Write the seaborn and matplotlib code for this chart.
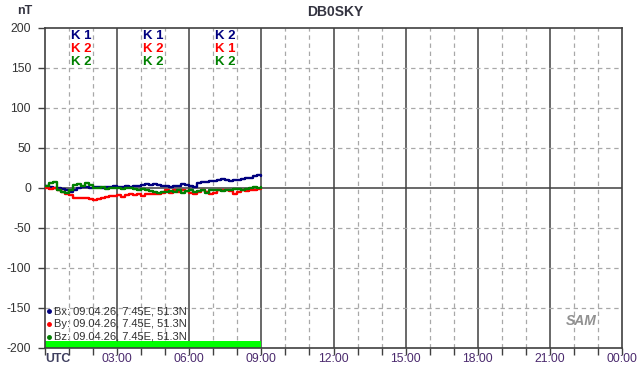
import numpy as np
import pandas as pd
import matplotlib
matplotlib.use("Agg")
import matplotlib.pyplot as plt
import seaborn as sns

hours = [i / 6 for i in range(55)]
bx = [2, 1, 0, 0, -1, -3, -5, -2, 0, 1, 1, 0, 1, 1, 0, 1, 1, 2, 1, 1, 2, 1, 2, 3, 4, 5, 4, 5, 4, 3,
      2, 1, 2, 3, 5, 4, 3, 1, 6, 8, 8, 9, 9, 10, 11, 10, 9, 10, 10, 11, 12, 13, 15, 16, 15]
by = [0, -1, 0, -3, -5, -7, -9, -12, -12, -13, -12, -14, -15, -14, -13, -11, -10, -10, -9, -11, -9,
      -7, -9, -8, -10, -8, -7, -8, -7, -6, -3, -6, -3, -5, -2, -4, -6, -7, -5, -3, -5, -7, -6, -2,
      -3, -2, -4, -7, -5, -3, -4, -2, -3, -1, -1]
bz = [3, 6, 7, -2, -5, -6, -3, 4, 5, 3, 6, 4, 0, 0, 1, -1, 0, 0, 0, -1, 0, 0, -1, -2, -1, -3, -4,
      -5, -6, -5, -5, -4, -5, -3, -6, -4, -3, -5, -4, -3, -6, -3, -3, -2, -4, -2, -3, -1, -1, -3,
      -1, 0, 1, 0, 1]
series_names = ["Bx", "By", "Bz"]
series_colors = ["#00007f", "#ff0000", "#008000"]
legend_text = "09.04.26, 7.45E, 51.3N"
k_hours = [1.5, 4.5, 7.5]
k_rows = [["K 1", "K 1", "K 2"], ["K 2", "K 2", "K 1"], ["K 2", "K 2", "K 2"]]
x_ticks = [0, 3, 6, 9, 12, 15, 18, 21, 24]
x_labels = ["UTC", "03:00", "06:00", "09:00", "12:00", "15:00", "18:00", "21:00", "00:00"]
y_ticks = [-200, -150, -100, -50, 0, 50, 100, 150, 200]
data_end = 9.0

df = pd.DataFrame({"h": hours * 3,
                   "v": bx + by + bz,
                   "s": ["Bx"] * len(hours) + ["By"] * len(hours) + ["Bz"] * len(hours)})

sns.set_theme(style="white")
plt.rcParams['font.family'] = ['Liberation Sans', 'DejaVu Sans']

fig = plt.figure(figsize=(6.42, 3.76), dpi=100)
ax = fig.add_axes([45 / 642, 28 / 376, 577 / 642, 320 / 376])

# grid
for h in range(1, 24):
    if h % 3 == 0:
        ax.axvline(h, color="#404040", lw=1.1, zorder=1)
    else:
        ax.axvline(h, color="#a8a8a8", lw=0.9, ls=(0, (3.5, 3)), zorder=1)
for y in y_ticks[1:-1]:
    if y == 0:
        ax.axhline(0, color="#404040", lw=1.1, zorder=1)
    else:
        ax.axhline(y, color="#a8a8a8", lw=0.9, ls=(0, (3.5, 3)), zorder=1)

# green data-availability bar
ax.fill_between([0, data_end], -200, -191.5, color="#00ff00", lw=0, zorder=2)

sns.lineplot(data=df, x="h", y="v", hue="s", palette=dict(zip(series_names, series_colors)),
             ax=ax, lw=1.7, legend=False, zorder=3, drawstyle="steps-post")

ax.set_xlim(0, 24)
ax.set_ylim(-200, 200)
ax.set_xticks(range(25))
ax.set_xticklabels(["" for _ in range(25)])
ax.set_yticks(y_ticks)
ax.set_yticklabels([str(v) for v in y_ticks], fontsize=8.8, color="#333333")
ax.tick_params(axis="x", length=5, width=1, color="#404040", direction="out", bottom=True)
ax.tick_params(axis="y", length=5, width=1, color="#404040", direction="out", left=True, pad=5)
for xt, lab in zip(x_ticks, x_labels):
    if lab == "UTC":
        ax.text(xt, -206, lab, fontsize=8.8, fontweight="bold", color="#404060", ha="left", va="top")
    else:
        ax.text(xt, -206, lab, fontsize=8.8, color="#4b2a6e", ha="center", va="top")
ax.set_xlabel("")
ax.set_ylabel("")
for sp in ax.spines.values():
    sp.set_color("#404040")
    sp.set_linewidth(1.2)

# K indices
k_y = [190, 173.5, 157.5]
for r, (row, col) in enumerate(zip(k_rows, series_colors)):
    for kh, lab in zip(k_hours, row):
        ax.text(kh, k_y[r], lab, color=col, fontsize=9.5, fontweight="bold", ha="center", va="center",
                zorder=4)

# legend
leg_y = [-154, -170, -186]
for yy, nm, col in zip(leg_y, series_names, series_colors):
    ax.plot(0.18, yy, "o", color=col, ms=2.5, zorder=4)
    ax.text(0.38, yy, f"{nm}: {legend_text}", fontsize=8, color="#303030", va="center", zorder=4)

# titles
fig.text(335 / 642, 1 - 12 / 376, "DB0SKY", fontsize=10, fontweight="bold", color="#333340",
         ha="center", va="center")
fig.text(25 / 642, 1 - 11 / 376, "nT", fontsize=9, fontweight="bold", color="#333340",
         ha="center", va="center")

# logo
ax.text(22.3, -166, "SAM", fontsize=10, fontstyle="italic", fontweight="bold", color="#909090",
        ha="center", va="center")

fig.savefig("out.png", dpi=100)
